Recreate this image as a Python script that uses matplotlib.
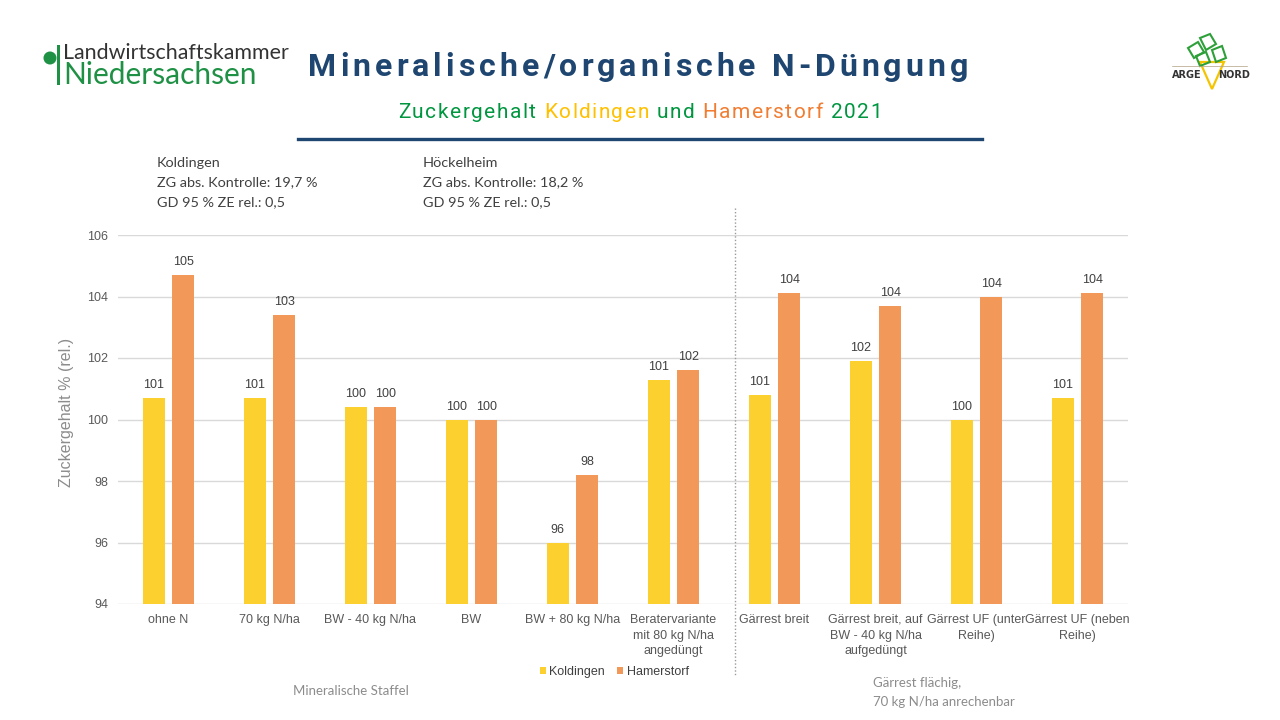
import numpy as np
import matplotlib
matplotlib.use('Agg')
import matplotlib.pyplot as plt
from matplotlib.lines import Line2D
from matplotlib.patches import Rectangle, Ellipse, Polygon

# Daten aus der Grafik (Zuckergehalt rel. zur Kontrolle)
categories = ['ohne N', '70 kg N/ha', 'BW - 40 kg N/ha', 'BW', 'BW + 80 kg N/ha',
              'Beratervariante\nmit 80 kg N/ha\nangedüngt', 'Gärrest breit',
              'Gärrest breit, auf\nBW - 40 kg N/ha\naufgedüngt',
              'Gärrest UF (unter\nReihe)', 'Gärrest UF (neben\nReihe)']
koldingen = [100.7, 100.7, 100.4, 100.0, 96.0, 101.3, 100.8, 101.9, 100.0, 100.7]
hamerstorf = [104.7, 103.4, 100.4, 100.0, 98.2, 101.6, 104.1, 103.7, 104.0, 104.1]
yticks = [94, 96, 98, 100, 102, 104, 106]

info_kold = 'Koldingen\nZG abs. Kontrolle: 19,7 %\nGD 95 % ZE rel.: 0,5'
info_hoeck = 'Höckelheim\nZG abs. Kontrolle: 18,2 %\nGD 95 % ZE rel.: 0,5'

c_kold = '#fcd02f'
c_ham = '#f2995a'
c_title = '#1f4670'
c_green = '#00963f'

W, H = 1280, 720
fig = plt.figure(figsize=(12.8, 7.2), dpi=100)
renderer = fig.canvas.get_renderer()


def px(x, y):
    # pixel (von oben links) -> figure fraction
    return x / W, 1 - y / H


# Hintergrund-Verlauf weiss -> grau
bg = fig.add_axes([0, 0, 1, 1], zorder=-10)
bg.axis('off')
rows = np.linspace(0, 1, H)
shade = np.where(rows < 0.25, 1.0, 1.0 - (rows - 0.25) / 0.75 * 0.165)
img = np.dstack([shade, shade, shade])[:, :1, :].repeat(2, axis=1)
bg.imshow(img, aspect='auto', extent=[0, 1, 0, 1], interpolation='bilinear')
bg.set_xlim(0, 1)
bg.set_ylim(0, 1)

# Diagramm
l, t = px(118, 235)
r, b = px(1128, 604)
ax = fig.add_axes([l, b, r - l, t - b])
ax.patch.set_alpha(0)

x = np.arange(len(categories))
bw = 0.22
off = 0.145
bars_k = ax.bar(x - off, koldingen, bw, color=c_kold, zorder=3, label='Koldingen')
bars_h = ax.bar(x + off, hamerstorf, bw, color=c_ham, zorder=3, label='Hamerstorf')

for bars in (bars_k, bars_h):
    for bar in bars:
        v = bar.get_height()
        ax.annotate('%d' % round(v), (bar.get_x() + bar.get_width() / 2, v),
                    xytext=(0, 5), textcoords='offset points', ha='center', va='bottom',
                    fontsize=9, color='#404040', family='Liberation Sans')

ax.set_ylim(94, 106)
ax.set_xlim(-0.5, len(categories) - 0.5)
ax.set_yticks(yticks)
ax.set_xticks(x)
ax.set_xticklabels(categories, linespacing=1.42)
ax.yaxis.grid(True, color='#d9d9d9', lw=1, zorder=0)
ax.tick_params(length=0, labelsize=9, labelcolor='#595959')
ax.tick_params(axis='y', pad=7)
ax.tick_params(axis='x', pad=7)
for lab in ax.get_xticklabels() + ax.get_yticklabels():
    lab.set_family('Liberation Sans')
for s in ax.spines.values():
    s.set_visible(False)

fig.text(*px(67, 412), 'Zuckergehalt % (rel.)', rotation=90, ha='center', va='center',
         fontsize=11.5, color='#8c8c8c', family='Liberation Sans')

# Legende
fig.legend(handles=[bars_k, bars_h], loc='center', bbox_to_anchor=px(614, 672),
           ncol=2, frameon=False, fontsize=9, handlelength=0.55, handleheight=0.55,
           handletextpad=0.25, columnspacing=0.9, labelcolor='#404040',
           prop={'family': 'Liberation Sans', 'size': 9})

# gepunktete Trennlinie
fig.add_artist(Line2D([735 / W, 735 / W], [1 - 208 / H, 1 - 675 / H], color='#9a9a9a',
                      lw=1, ls=(0, (1, 1.5))))

# Infotexte
for xx, txt in ((157, info_kold), (423, info_hoeck)):
    fig.text(*px(xx, 157), txt, ha='left', va='top', fontsize=10.4, color='#404040',
             family='Lato', linespacing=1.75)

fig.text(*px(351, 691), 'Mineralische Staffel', ha='center', va='center', fontsize=9.5,
         color='#8c8c8c', family='Lato')
fig.text(*px(873, 677), 'Gärrest flächig,\n70 kg N/ha anrechenbar', ha='left', va='top',
         fontsize=9.5, color='#8c8c8c', family='Lato', linespacing=1.65)


def width(s, **kw):
    tt = fig.text(0, 0, s, **kw)
    w = tt.get_window_extent(renderer).width
    tt.remove()
    return w


def tracked(runs, xc, y, target, **kw):
    # Text mit Sperrung und mehreren Farben zentriert setzen
    full = ''.join(s for s, c in runs)
    chars = []
    for s, c in runs:
        chars += [(ch, c) for ch in s]
    base = width('|', **kw)
    pos = [width(full[:i] + '|', **kw) - base for i in range(len(full))]
    natural = width(full, **kw)
    track = (target - natural) / (len(full) - 1)
    x0 = xc - target / 2
    for i, (ch, c) in enumerate(chars):
        if ch == ' ':
            continue
        fig.text(*px(x0 + pos[i] + i * track, y), ch, ha='left', va='baseline', color=c, **kw)


tracked([('Mineralische/organische N-Düngung', c_title)], 638, 76, 660,
        fontsize=23, family='Roboto', weight='bold')
tracked([('Zuckergehalt ', c_green), ('Koldingen ', '#ffc000'), ('und ', c_green),
         ('Hamerstorf ', '#f07d32'), ('2021', c_green)], 640, 118, 484,
        fontsize=15, family='Roboto')
fig.add_artist(Line2D([298 / W, 982 / W], [1 - 139 / H] * 2, color=c_title, lw=2.4))

# Logo Landwirtschaftskammer
fig.text(*px(63, 59), 'Landwirtschaftskammer', ha='left', va='baseline', fontsize=15.4,
         color='#333333', family='Lato')
fig.text(*px(63, 84), 'Niedersachsen', ha='left', va='baseline', fontsize=21.5,
         color='#1e9145', family='Lato')
fig.add_artist(Rectangle(px(56.5, 85), 3.5 / W, 40 / H, color='#1e9145', lw=0))
fig.add_artist(Ellipse(px(50, 58), 13 / W, 13 / H, color='#1e9145', lw=0,
                       transform=fig.transFigure))

# Logo ARGE NORD
fig.text(*px(1172, 78), 'ARGE', ha='left', va='baseline', fontsize=7, weight='bold',
         color='#333333', family='DejaVu Sans')
fig.text(*px(1218, 78), 'NORD', ha='left', va='baseline', fontsize=7, weight='bold',
         color='#333333', family='DejaVu Sans')
fig.add_artist(Polygon([px(1200, 62), px(1212, 89), px(1224, 62)], closed=True,
                       fill=False, ec='#f5c400', lw=1.6, transform=fig.transFigure))
for pts in ([(1188, 48), (1198, 42), (1204, 52), (1194, 58)],
            [(1200, 38), (1210, 34), (1216, 44), (1206, 50)],
            [(1212, 50), (1222, 46), (1226, 58), (1216, 62)],
            [(1196, 56), (1206, 52), (1210, 62), (1200, 66)]):
    fig.add_artist(Polygon([px(*p) for p in pts], closed=True, fill=False,
                           ec='#2ea03a', lw=1.5, transform=fig.transFigure))
fig.add_artist(Line2D([1172 / W, 1247 / W], [1 - 66 / H] * 2, color='#b0a080', lw=0.5))

fig.savefig('out.png', dpi=100)
